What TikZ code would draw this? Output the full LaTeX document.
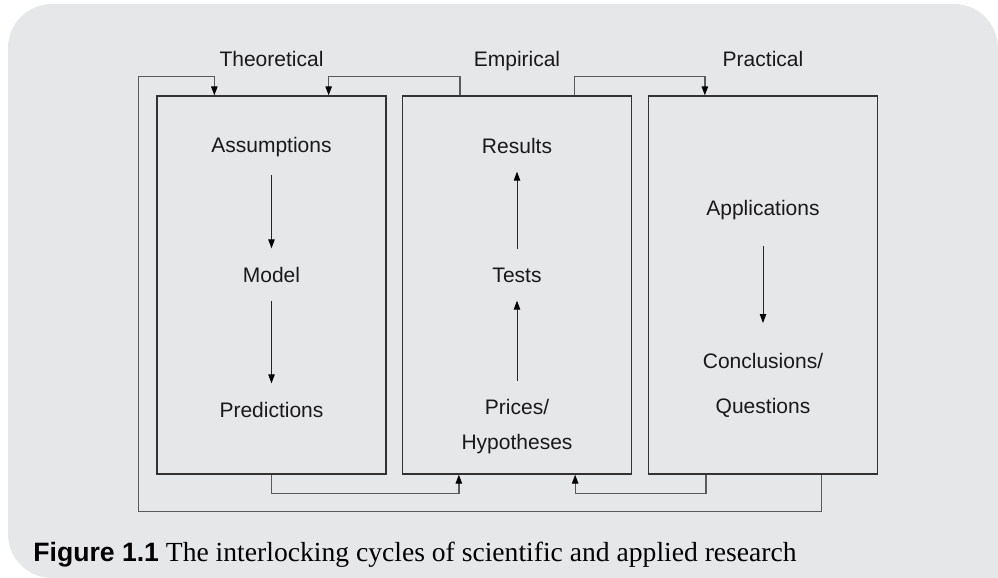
\documentclass[tikz,border=0pt]{standalone}
\usepackage{fontspec}
\setmainfont{Liberation Serif}
\setsansfont{Liberation Sans}
\usetikzlibrary{positioning, arrows.meta, calc}
\definecolor{panelgrey}{RGB}{230,231,233}
\definecolor{inkgrey}{RGB}{90,90,90}

\begin{document}
\begin{tikzpicture}[
                x=0.5pt, y=-0.5pt,
                >={Triangle[length=4.5pt, width=3.2pt, color=black]},
                panel/.style={draw=black!80, line width=0.65pt, rectangle, minimum width=114.5pt, minimum height=189pt, inner sep=0pt},
                heading/.style={font=\sffamily\fontsize{10.5}{12.6}\selectfont, text=black!90, anchor=base, inner sep=0pt},
                label/.style={font=\sffamily\fontsize{10.5}{12.6}\selectfont, text=black!90, align=center, inner sep=0pt},
                flow/.style={->, line width=0.5pt, black!85, shorten <=9pt, shorten >=9pt},
                link/.style={->, line width=0.65pt, draw=inkgrey},
            ]
                % Draw the background panel
                \useasboundingbox (0,0) rectangle (998,578);
                \fill[panelgrey, rounded corners=22pt] (998,578) -- (8,578) -- (8,4) -- (998,4) -- (998,578);

                % Draw the three boxes with their headings
                \foreach \name / \x / \head in {theo/271.5/Theoretical, emp/517/Empirical, prac/763/Practical} {
                    \node[panel] (\name) at (\x,285) {};
                    \node[heading] (\name-head) at (\x,66) {\head};
                }

                % Theoretical cycle
                \node[label, anchor=base] (assum) at (271.5,152) {Assumptions};
                \node[label, anchor=base] (model) at (271.5,282) {Model};
                \node[label, anchor=base] (pred) at (271.5,417) {Predictions};
                \draw[flow] (assum) -- (model);
                \draw[flow] (model) -- (pred);

                % Empirical cycle
                \node[label, anchor=base] (res) at (517,153) {Results};
                \node[label, anchor=base] (tests) at (517,282) {Tests};
                \node[label, anchor=north, font=\sffamily\fontsize{10.5}{17.5}\selectfont] (hyp) at (517,399) {Prices/\\Hypotheses};
                \draw[flow] (tests) -- (res);
                \draw[flow] (hyp) -- (tests);

                % Practical cycle
                \node[label, anchor=base] (appl) at (763,215) {Applications};
                \node[label, anchor=north, font=\sffamily\fontsize{10.5}{22.5}\selectfont] (concl) at (763,353) {Conclusions/\\Questions};
                \draw[flow, shorten <=13pt, shorten >=15pt] (appl) -- (concl);

                % Connect the boxes along the top
                \draw[link] ($(emp.north west)+(58,0)$) -- ++(0,-19) -| ($(theo.north east)+(-58,0)$);
                \draw[link] ($(emp.north east)+(-58,0)$) -- ++(0,-19) -| ($(prac.north west)+(57,0)$);

                % Connect the boxes along the bottom
                \draw[link] (theo.south) -- ++(0,19) -| ($(emp.south west)+(57,0)$);
                \draw[link] ($(prac.south west)+(58,0)$) -- ++(0,19) -| ($(emp.south east)+(-57,0)$);
                \draw[link] ($(prac.south east)+(-57,0)$) -- ++(0,37) -| ($(theo.west)+(-18,0)$) |- ($(theo.north west)+(58,-19)$) -- ($(theo.north west)+(58,0)$);

                % Caption
                \node[anchor=base west, inner sep=0pt, font=\fontsize{13.8}{16}\selectfont] (caption) at (33,561) {{\sffamily\bfseries\fontsize{13.3}{16}\selectfont Figure 1.1} The interlocking cycles of scientific and applied research};
            \end{tikzpicture}
\end{document}
